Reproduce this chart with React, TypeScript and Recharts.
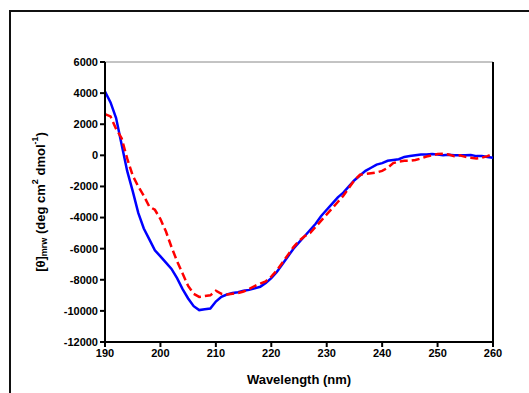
import React from 'react'
import { LineChart, Line, XAxis, YAxis, ReferenceLine } from 'recharts'

// wavelength in nm, 1 nm steps
const wavelengths: number[] = Array.from({ length: 71 }, (_, i) => 190 + i)

// mean residue ellipticity, solid blue trace
const blueTrace: number[] = [
  4100, 3400, 2400, 700, -1000, -2300, -3700, -4700, -5400, -6100,
  -6500, -6900, -7300, -7900, -8600, -9200, -9700, -9950, -9900, -9850,
  -9400, -9100, -8950, -8850, -8800, -8700, -8650, -8550, -8450, -8200,
  -7900, -7500, -7000, -6500, -6000, -5600, -5200, -4800, -4400, -3900,
  -3500, -3100, -2700, -2400, -2000, -1600, -1300, -1000, -800, -600,
  -500, -350, -300, -250, -100, -50, 0, 50, 50, 80,
  50, 0, 30, 0, 0, 0, 20, -50, -50, -100,
  -150,
]

// dashed red trace
const redTrace: number[] = [
  2650, 2500, 1700, 1100, -200, -1300, -2000, -2600, -3300, -3500,
  -4100, -4900, -5900, -6800, -7600, -8400, -8900, -9100, -9050, -9000,
  -8700, -8900, -8950, -8900, -8850, -8750, -8600, -8400, -8250, -8100,
  -7800, -7400, -6900, -6400, -5900, -5500, -5200, -5000, -4600, -4200,
  -3800, -3400, -3000, -2600, -2100, -1600, -1250, -1200, -1150, -1100,
  -1000, -800, -500, -400, -350, -350, -300, -200, -80, 0,
  80, 100, 50, -50, 0, -100, -150, -200, -150, -50,
  100,
]

const xTicks = [190, 200, 210, 220, 230, 240, 250, 260]
const yTicks = [-12000, -10000, -8000, -6000, -4000, -2000, 0, 2000, 4000, 6000]

const data = wavelengths.map((nm, i) => ({ nm, blue: blueTrace[i], red: redTrace[i] }))

const FONT = 'Arial, "Liberation Sans", Helvetica, sans-serif'
const tickStyle = { fontFamily: FONT, fontSize: 11, fontWeight: 700, fill: '#000' }

function YLabel(props: any) {
  const vb = props.viewBox || {}
  const cx = 40
  const cy = (vb.y ?? 62) + (vb.height ?? 280) / 2
  return (
    <text
      x={cx}
      y={cy}
      transform={`rotate(-90 ${cx} ${cy})`}
      textAnchor="middle"
      dominantBaseline="central"
      style={{ fontFamily: FONT, fontSize: 13, fontWeight: 700, fill: '#000' }}
    >
      <tspan>[θ]</tspan>
      <tspan dy={4} fontSize={9}>mrw</tspan>
      <tspan dy={-4}> (deg cm</tspan>
      <tspan dy={-5} fontSize={9}>2</tspan>
      <tspan dy={5}> dmol</tspan>
      <tspan dy={-5} fontSize={9}>-1</tspan>
      <tspan dy={5}>)</tspan>
    </text>
  )
}

export default function App() {
  return (
    <div style={{ position: 'absolute', left: 0, top: 0, width: 529, height: 393, overflow: 'hidden', background: '#fff' }}>
      <div
        style={{
          position: 'absolute',
          left: 9,
          top: 10,
          width: 560,
          height: 420,
          border: '2px solid #111',
        }}
      />
      <div style={{ position: 'absolute', left: 0, top: 0 }}>
        <LineChart width={529} height={393} data={data} margin={{ top: 62, right: 36, bottom: 21, left: 45 }}>
          <XAxis
            dataKey="nm"
            type="number"
            domain={[190, 260]}
            ticks={xTicks}
            tick={tickStyle}
            tickSize={5}
            height={30}
            axisLine={{ stroke: '#000', strokeWidth: 2 }}
            tickLine={{ stroke: '#000', strokeWidth: 2 }}
            label={{
              value: 'Wavelength (nm)',
              position: 'insideBottom',
              offset: -12,
              style: { fontFamily: FONT, fontSize: 13, fontWeight: 700, fill: '#000' },
            }}
          />
          <YAxis
            type="number"
            domain={[-12000, 6000]}
            ticks={yTicks}
            tick={tickStyle}
            tickSize={5}
            width={60}
            interval={0}
            axisLine={{ stroke: '#000', strokeWidth: 2 }}
            tickLine={{ stroke: '#000', strokeWidth: 2 }}
            label={<YLabel />}
          />
          <ReferenceLine y={6000} stroke="#888" strokeWidth={1} />
          <ReferenceLine x={260} stroke="#000" strokeWidth={2} />
          <Line
            dataKey="blue"
            type="linear"
            stroke="#0000ff"
            strokeWidth={2.5}
            dot={false}
            isAnimationActive={false}
          />
          <Line
            dataKey="red"
            type="linear"
            stroke="#ff0000"
            strokeWidth={2.5}
            strokeDasharray="8 4"
            dot={false}
            isAnimationActive={false}
          />
        </LineChart>
      </div>
    </div>
  )
}
